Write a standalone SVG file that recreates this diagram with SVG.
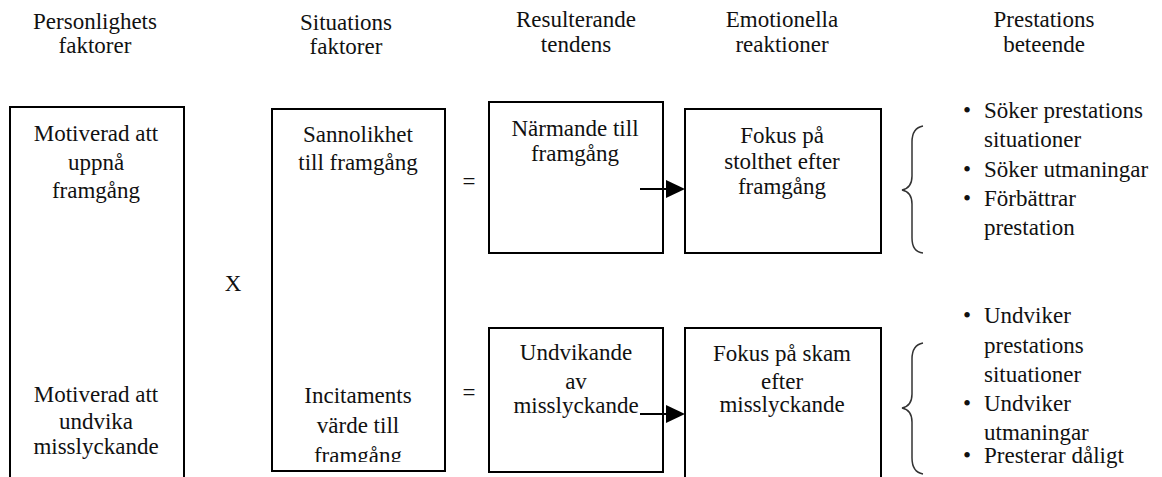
<svg xmlns="http://www.w3.org/2000/svg" width="1162" height="477" viewBox="0 0 1162 477" font-family="Liberation Serif, Times New Roman, serif">
<style>
text{font-family:"Liberation Serif","Times New Roman",serif;font-size:23px;fill:#111;text-anchor:middle}
.b{text-anchor:start;font-size:23px}
.box{fill:#fff;stroke:#000;stroke-width:2}
.brace{fill:none;stroke:#333;stroke-width:1.5}
.ln{stroke:#000;stroke-width:2;fill:none}
.head{fill:#000}
</style>
<defs>
<clipPath id="clipInc"><rect x="272" y="380" width="173" height="82"/></clipPath>
</defs>
<rect width="1162" height="477" fill="#fff"/>
<g id="headers">
<text x="95" y="29">Personlighets</text><text x="95" y="53">faktorer</text>
<text x="346" y="30">Situations</text><text x="346" y="54">faktorer</text>
<text x="576" y="27">Resulterande</text><text x="576" y="52">tendens</text>
<text x="782" y="27">Emotionella</text><text x="782" y="52">reaktioner</text>
<text x="1044" y="27">Prestations</text><text x="1044" y="52">beteende</text>
</g>
<g id="personlighet">
<rect class="box" x="10" y="107" width="174" height="390"/>
<text x="96" y="141">Motiverad att</text><text x="96" y="170">uppnå</text><text x="96" y="198">framgång</text>
<text x="96" y="402">Motiverad att</text><text x="96" y="429">undvika</text><text x="96" y="454">misslyckande</text>
</g>
<g id="op-x"><text x="233" y="291">X</text></g>
<g id="situation">
<rect class="box" x="272" y="109" width="173" height="362"/>
<text x="358" y="142">Sannolikhet</text><text x="358" y="170">till framgång</text>
<g clip-path="url(#clipInc)">
<text x="358" y="403">Incitaments</text><text x="358" y="433">värde till</text><text x="358" y="463">framgång</text>
</g>
</g>
<g id="eq"><text x="469" y="189">=</text><text x="469" y="400">=</text></g>
<g id="narmande">
<rect class="box" x="489" y="102" width="174" height="151"/>
<text x="575" y="136">Närmande till</text><text x="575" y="161">framgång</text>
</g>
<g id="stolthet">
<rect class="box" x="685" y="109" width="196" height="144"/>
<text x="782" y="143">Fokus på</text><text x="782" y="169">stolthet efter</text><text x="782" y="194">framgång</text>
</g>
<g id="undvikande">
<rect class="box" x="489" y="328" width="174" height="144"/>
<text x="576" y="360">Undvikande</text><text x="576" y="389">av</text><text x="576" y="413">misslyckande</text>
</g>
<g id="skam">
<rect class="box" x="685" y="328" width="196" height="170"/>
<text x="782" y="361">Fokus på skam</text><text x="782" y="389">efter</text><text x="782" y="412">misslyckande</text>
</g>
<g id="connectors">
<line class="ln" x1="640" y1="189" x2="667" y2="189"/>
<path class="head" d="M666,180 L685,189 L666,198 Z"/>
<line class="ln" x1="640" y1="414" x2="667" y2="414"/>
<path class="head" d="M666,405 L685,414 L666,423 Z"/>
</g>
<g id="beteende-positiv">
<path class="brace" d="M923,126 Q912,128 912,142 L912,176 Q912,188 902,190 Q912,192 912,204 L912,238 Q912,252 923,253"/>
<text class="b" x="963" y="118">•</text><text class="b" x="984" y="118">Söker prestations</text>
<text class="b" x="984" y="147">situationer</text>
<text class="b" x="963" y="177">•</text><text class="b" x="984" y="177">Söker utmaningar</text>
<text class="b" x="963" y="206">•</text><text class="b" x="984" y="206">Förbättrar</text>
<text class="b" x="984" y="235">prestation</text>
</g>
<g id="beteende-negativ">
<path class="brace" d="M923,343 Q912,345 912,359 L912,394 Q912,406 902,408 Q912,410 912,422 L912,458 Q912,472 923,474"/>
<text class="b" x="963" y="323">•</text><text class="b" x="984" y="323">Undviker</text>
<text class="b" x="984" y="353">prestations</text>
<text class="b" x="984" y="382">situationer</text>
<text class="b" x="963" y="411">•</text><text class="b" x="984" y="411">Undviker</text>
<text class="b" x="984" y="440">utmaningar</text>
<text class="b" x="963" y="463">•</text><text class="b" x="984" y="463">Presterar dåligt</text>
</g>
</svg>
